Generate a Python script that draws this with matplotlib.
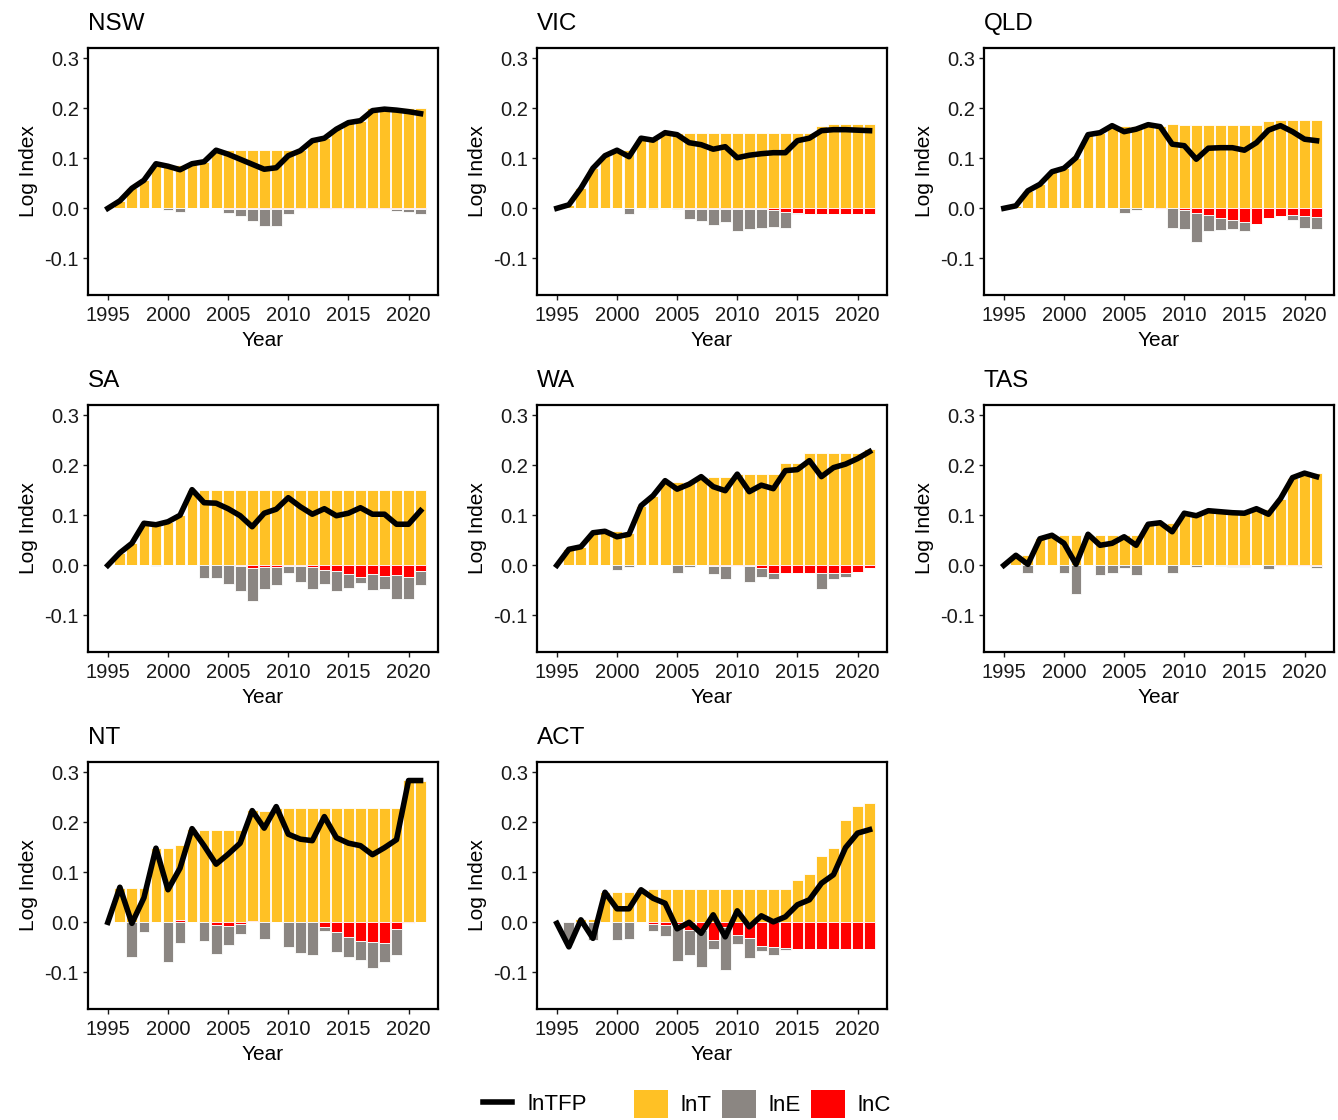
import numpy as np
import matplotlib
matplotlib.use("Agg")
import matplotlib.pyplot as plt
from matplotlib.lines import Line2D
from matplotlib.patches import Patch

plt.rcParams['font.family'] = ['Liberation Sans', 'DejaVu Sans']

years = list(range(1995, 2022))
bar_years = years[1:]

# lnTFP line 1995-2021, bar components 1996-2021
nsw_tfp = [0, .015, .04, .056, .089, .084, .077, .089, .093, .116, .108, .098, .088, .078,
           .081, .105, .115, .135, .14, .158, .171, .175, .195, .198, .196, .193, .189]
nsw_t = [.015, .04, .056, .087, .087, .087, .09, .093, .116, .116, .116, .116, .116, .116,
         .116, .116, .135, .14, .158, .171, .175, .2, .2, .2, .2, .2]
nsw_e = [0, 0, 0, 0, -.003, -.007, 0, 0, 0, -.007, -.013, -.024, -.034, -.033, -.009,
         0, 0, 0, 0, 0, 0, 0, 0, -.003, -.005, -.01]
nsw_c = [0] * 9 + [-.002] * 17

vic_tfp = [0, .007, .04, .08, .105, .116, .103, .14, .136, .151, .147, .131, .127, .118,
           .123, .101, .106, .109, .111, .111, .135, .14, .155, .157, .157, .156, .155]
vic_t = [.007, .04, .08, .105, .116, .116, .14, .14, .151] + [.15] * 12 + [.165, .168, .168, .168, .168]
vic_e = [0, 0, 0, 0, 0, -.011, 0, -.002, 0, -.002, -.019, -.023, -.031, -.026, -.043, -.04,
         -.038, -.034, -.032, -.003, -.001, 0, 0, 0, 0, -.001]
vic_c = [0] * 10 + [-.002] * 7 + [-.004, -.007, -.009] + [-.011] * 6

qld_tfp = [0, .005, .035, .048, .073, .08, .101, .147, .151, .165, .153, .158, .167, .163,
           .128, .125, .098, .12, .121, .121, .116, .131, .156, .165, .153, .138, .135]
qld_t = [.005, .035, .048, .073, .08, .101, .147, .151] + [.165] * 5 + [.168] + [.166] * 7 + [.175, .177, .177, .177, .177]
qld_e = [0] * 9 + [-.009, -.003, 0, 0, -.04, -.037, -.057, -.032, -.024, -.019, -.019,
                   0, 0, 0, -.01, -.023, -.025]
qld_c = [0] * 12 + [-.001, 0, -.004, -.01, -.013, -.019, -.023, -.027, -.031, -.019,
                    -.015, -.013, -.016, -.017]

sa_tfp = [0, .025, .044, .084, .081, .087, .1, .151, .125, .124, .113, .099, .077, .104,
          .112, .135, .117, .102, .113, .099, .104, .115, .102, .102, .082, .082, .109]
sa_t = [.025, .044, .084, .084, .087, .1] + [.151] * 20
sa_e = [0, 0, 0, -.002, 0, 0, 0, -.026, -.026, -.037, -.05, -.067, -.044, -.037, -.014,
        -.032, -.044, -.028, -.04, -.029, -.013, -.031, -.027, -.048, -.044, -.029]
sa_c = [0] * 10 + [-.002, -.005, -.003, -.003, -.002, -.002, -.003, -.01, -.011, -.017,
                   -.023, -.018, -.021, -.02, -.023, -.011]

wa_tfp = [0, .032, .037, .065, .068, .057, .062, .119, .139, .169, .152, .162, .177, .157,
          .149, .182, .147, .16, .153, .189, .191, .209, .177, .195, .202, .213, .227]
wa_t = [.032, .037, .065, .068, .068, .065, .119, .139, .169, .167, .166, .176, .176, .176,
        .182, .182, .182, .182, .204, .204, .224, .224, .224, .224, .224, .232]
wa_e = [0, 0, 0, 0, -.01, -.003, 0, 0, 0, -.015, -.004, 0, -.017, -.027, 0, -.032, -.018,
        -.013, 0, 0, 0, -.032, -.013, -.008, 0, 0]
wa_c = [0] * 12 + [-.001, -.001, -.001, -.002, -.005, -.015, -.015, -.015, -.016, -.016,
                   -.015, -.015, -.013, -.005]

tas_tfp = [0, .02, .002, .053, .06, .044, .002, .062, .04, .044, .057, .04, .082, .085,
           .067, .104, .099, .109, .107, .105, .104, .113, .102, .133, .175, .184, .177]
tas_t = [.02, .02, .055, .062] + [.06] * 7 + [.082, .085, .085, .102, .104] + [.109] * 4 + [.113, .113, .133, .175, .184, .184]
tas_e = [0, -.016, 0, 0, -.016, -.057, 0, -.02, -.016, -.006, -.02, 0, 0, -.016, 0, -.004,
         0, -.001, -.002, -.002, 0, -.008, 0, 0, 0, -.005]
tas_c = [0] * 18 + [-.001, -.001, 0, 0, -.001, -.001, -.001, -.001]

nt_tfp = [0, .07, -.002, .049, .148, .065, .108, .187, .153, .116, .136, .158, .223, .188,
          .231, .176, .166, .163, .211, .169, .158, .153, .135, .149, .165, .283, .283]
nt_t = [.068, .068, .068, .148, .148, .15, .186, .185, .185, .185, .185, .222, .222] + [.229] * 11 + [.285, .283]
nt_e = [0, -.069, -.019, 0, -.08, -.042, 0, -.037, -.059, -.038, -.019, 0, -.033, 0, -.05,
        -.062, -.065, -.008, -.041, -.04, -.038, -.053, -.037, -.051, 0, 0]
nt_c = [0, 0, 0, 0, 0, .005, 0, 0, -.005, -.007, -.004, .003, 0, 0, 0, 0, 0, -.01, -.019,
        -.03, -.037, -.039, -.042, -.014, -.001, 0]

act_tfp = [-.002, -.049, .005, -.032, .06, .027, .027, .065, .048, .038, -.013, 0, -.022,
           .015, -.029, .023, -.009, .013, .001, .011, .035, .045, .078, .095, .149, .178, .185]
act_t = [0, .007, .007, .06, .06, .06] + [.067] * 13 + [.085, .096, .133, .149, .205, .233, .239]
act_e = [-.04, 0, -.035, 0, -.035, -.033, 0, -.013, -.022, -.074, -.051, -.075, -.018,
         -.086, -.019, -.04, -.01, -.017, -.005, 0, 0, 0, 0, 0, 0, 0]
act_c = [0] * 7 + [-.004, -.006, -.003, -.015, -.015, -.035, -.01, -.025, -.032, -.047,
                   -.049, -.051] + [-.054] * 7

states = ['NSW', 'VIC', 'QLD', 'SA', 'WA', 'TAS', 'NT', 'ACT']
panels = [(nsw_tfp, nsw_t, nsw_e, nsw_c), (vic_tfp, vic_t, vic_e, vic_c),
          (qld_tfp, qld_t, qld_e, qld_c), (sa_tfp, sa_t, sa_e, sa_c),
          (wa_tfp, wa_t, wa_e, wa_c), (tas_tfp, tas_t, tas_e, tas_c),
          (nt_tfp, nt_t, nt_e, nt_c), (act_tfp, act_t, act_e, act_c)]

col_t = '#FFC125'
col_e = '#8B8682'
col_c = '#FF0000'

W, H = 1338, 1120
fig = plt.figure(figsize=(W / 100, H / 100), dpi=100)

lefts = [88, 537, 984]
tops = [48, 405, 762]
aw, ah = 350, 247

for i, name in enumerate(states):
    tfp, t, e, c = [np.array(a, dtype=float) for a in panels[i]]
    r, k = divmod(i, 3)
    ax = fig.add_axes([lefts[k] / W, 1 - (tops[r] + ah) / H, aw / W, ah / H])

    c_pos = np.clip(c, 0, None)
    c_neg = np.clip(c, None, 0)
    kw = dict(width=0.9, edgecolor='white', linewidth=0.6)
    ax.bar(bar_years, t, bottom=c_pos, color=col_t, **kw)
    ax.bar(bar_years, c_pos, color=col_c, **kw)
    ax.bar(bar_years, c_neg, color=col_c, **kw)
    ax.bar(bar_years, e, bottom=c_neg, color=col_e, **kw)
    ax.plot(years, tfp, color='black', linewidth=4, solid_joinstyle='round', zorder=5)

    ax.set_xlim(1993.35, 2022.45)
    ax.set_ylim(-0.173, 0.32)
    ax.set_xticks([1995, 2000, 2005, 2010, 2015, 2020])
    ax.set_yticks([-0.1, 0.0, 0.1, 0.2, 0.3])
    ax.set_yticklabels(['-0.1', '0.0', '0.1', '0.2', '0.3'])
    ax.tick_params(labelsize=14.5, length=3.5, width=1, colors='#1a1a1a')
    ax.tick_params(axis='x', pad=4.5)
    ax.tick_params(axis='y', pad=3)
    for s in ax.spines.values():
        s.set_linewidth(1.6)
    ax.set_title(name, loc='left', fontsize=17.5, pad=13)
    ax.set_xlabel('Year', fontsize=15, labelpad=4)
    ax.set_ylabel('Log Index', fontsize=15, labelpad=5)

fs = 16
line_h = [Line2D([0], [0], color='black', linewidth=4)]
fig.legend(line_h, ['lnTFP'], loc='center left', bbox_to_anchor=(483 / W, 16 / H),
           frameon=False, fontsize=fs, borderpad=0, borderaxespad=0,
           handlelength=1.3, handletextpad=0.7)
patch_h = [Patch(facecolor=col_t), Patch(facecolor=col_e), Patch(facecolor=col_c)]
fig.legend(patch_h, ['lnT', 'lnE', 'lnC'], loc='center left', bbox_to_anchor=(634 / W, 16 / H),
           frameon=False, fontsize=fs, borderpad=0, borderaxespad=0, ncol=3,
           handlelength=1.55, handleheight=1.55, handletextpad=0.55, columnspacing=0.45)

fig.savefig('out.png', dpi=100)
